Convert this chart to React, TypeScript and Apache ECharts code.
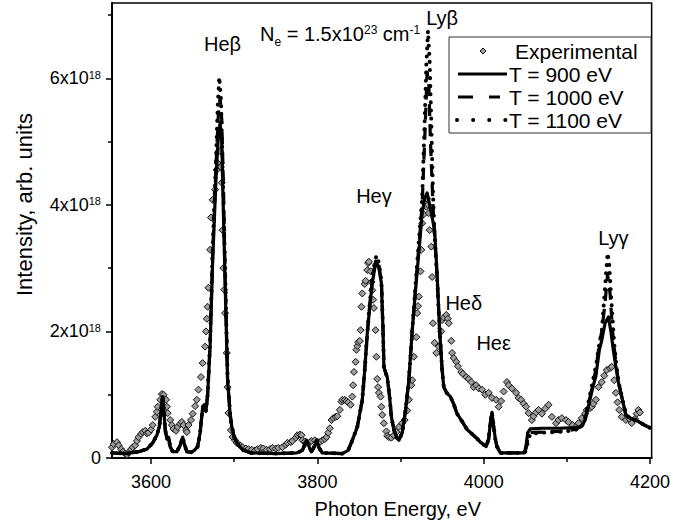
import React, { useEffect, useRef } from 'react';
import * as echarts from 'echarts';

const FONT = 'Liberation Sans, Arial, Helvetica, sans-serif';

// Axis ticks (intensity in units of 1e18)
const xTickLabels = [3600, 3800, 4000, 4200];
const xMinorTicks = [3700, 3900, 4100];
const yTickLabels = [0, 2, 4, 6];
const yMinorTicks = [1, 3, 5, 7];

const seriesNames = ['Experimental', 'T = 900 eV', 'T = 1000 eV', 'T = 1100 eV'];

// Experimental points [photon energy eV, intensity x1e18]
const experimental: [number, number][] = [
  [3553, 0.17], [3555, 0.22], [3559, 0.25], [3561, 0.2], [3564, 0.14], [3566, 0.1], [3569, 0.07], [3571, 0.05],
  [3573, 0.09], [3576, 0.14], [3578, 0.17], [3581, 0.2], [3583, 0.27], [3585, 0.33], [3588, 0.38], [3590, 0.41],
  [3593, 0.43], [3595, 0.39], [3597, 0.4], [3600, 0.45], [3602, 0.52], [3605, 0.65], [3607, 0.73], [3608, 0.81],
  [3611, 0.92], [3613, 1.01], [3615, 1.0], [3618, 0.92], [3619, 0.81], [3620, 0.71], [3623, 0.6], [3625, 0.52],
  [3627, 0.46], [3630, 0.43], [3632, 0.49], [3635, 0.54], [3637, 0.57], [3639, 0.52], [3642, 0.44], [3643, 0.41],
  [3645, 0.52], [3648, 0.6], [3650, 0.7], [3653, 0.82], [3655, 0.92], [3657, 1.08], [3660, 1.28], [3662, 1.5],
  [3665, 1.76], [3666, 2.0], [3667, 2.2], [3668, 2.39], [3669, 2.69], [3671, 3.29], [3672, 3.8], [3674, 4.08],
  [3677, 4.24], [3679, 4.55], [3680, 4.66], [3683, 4.85], [3684, 4.6], [3685, 4.35], [3686, 3.6], [3687, 3.0],
  [3688, 2.66], [3689, 2.29], [3691, 1.66], [3692, 1.12], [3693, 0.71], [3696, 0.44], [3698, 0.33], [3701, 0.28],
  [3703, 0.24], [3707, 0.2], [3710, 0.17], [3714, 0.15], [3717, 0.14], [3721, 0.13], [3725, 0.12], [3728, 0.14],
  [3732, 0.16], [3735, 0.15], [3739, 0.13], [3743, 0.14], [3746, 0.16], [3750, 0.15], [3753, 0.16], [3758, 0.17],
  [3762, 0.21], [3764, 0.24], [3768, 0.25], [3770, 0.27], [3774, 0.32], [3776, 0.36], [3779, 0.37], [3781, 0.36],
  [3782, 0.28], [3785, 0.26], [3787, 0.24], [3791, 0.25], [3793, 0.27], [3797, 0.28], [3800, 0.26], [3803, 0.25],
  [3806, 0.28], [3809, 0.3], [3811, 0.33], [3813, 0.4], [3815, 0.47], [3817, 0.6], [3819, 0.63], [3822, 0.65],
  [3824, 0.66], [3827, 0.76], [3829, 0.89], [3830, 0.92], [3833, 0.92], [3835, 0.9], [3837, 0.88], [3840, 0.84],
  [3842, 0.97], [3843, 1.15], [3844, 1.36], [3846, 1.52], [3847, 1.71], [3848, 1.77], [3849, 1.83], [3851, 1.85],
  [3852, 2.02], [3853, 2.39], [3854, 2.6], [3857, 2.75], [3858, 2.8], [3860, 2.97], [3861, 3.08], [3862, 3.1],
  [3864, 2.95], [3865, 2.78], [3866, 2.65], [3867, 2.5], [3868, 2.37], [3870, 2.02], [3871, 1.6], [3872, 1.25],
  [3873, 1.12], [3874, 1.03], [3876, 0.97], [3877, 0.81], [3878, 0.68], [3880, 0.55], [3883, 0.42], [3884, 0.35],
  [3886, 0.33], [3889, 0.32], [3892, 0.36], [3895, 0.41], [3898, 0.49], [3902, 0.55], [3905, 0.6], [3908, 0.75],
  [3910, 0.92], [3913, 1.15], [3914, 1.23], [3916, 1.6], [3919, 1.91], [3920, 2.29], [3921, 2.4], [3922, 2.55],
  [3924, 2.95], [3925, 3.29], [3926, 3.71], [3928, 3.85], [3931, 3.97], [3932, 4.1], [3933, 4.0], [3934, 3.87],
  [3935, 3.6], [3937, 3.34], [3938, 2.86], [3939, 2.13], [3941, 1.82], [3943, 1.66], [3946, 1.76], [3949, 2.0],
  [3950, 2.18], [3952, 2.22], [3955, 2.26], [3957, 2.2], [3958, 2.13], [3961, 1.85], [3962, 1.66], [3964, 1.58],
  [3967, 1.52], [3969, 1.45], [3973, 1.36], [3975, 1.33], [3979, 1.28], [3982, 1.25], [3985, 1.2], [3988, 1.12],
  [3991, 1.15], [3994, 1.1], [3998, 1.08], [4002, 1.0], [4006, 1.03], [4010, 0.95], [4015, 0.92], [4018, 0.81],
  [4021, 0.9], [4024, 1.05], [4028, 1.2], [4030, 1.15], [4034, 1.1], [4039, 1.03], [4042, 0.95], [4045, 0.92],
  [4048, 0.86], [4051, 0.81], [4054, 0.71], [4058, 0.6], [4060, 0.66], [4063, 0.72], [4066, 0.76], [4070, 0.7],
  [4074, 0.78], [4078, 0.84], [4082, 0.65], [4087, 0.55], [4090, 0.6], [4094, 0.63], [4099, 0.6], [4102, 0.57],
  [4107, 0.52], [4111, 0.49], [4114, 0.55], [4118, 0.63], [4122, 0.7], [4124, 0.76], [4128, 0.79], [4130, 0.81],
  [4132, 0.86], [4135, 0.92], [4138, 1.12], [4142, 1.2], [4145, 1.3], [4148, 1.39], [4152, 1.42], [4154, 1.44],
  [4157, 1.23], [4159, 1.03], [4161, 0.88], [4163, 0.76], [4166, 0.65], [4171, 0.6], [4175, 0.62], [4178, 0.55],
  [4182, 0.62], [4184, 0.7], [4186, 0.76], [4188, 0.72],
];

// Theory, T = 900 eV
const t900: [number, number][] = [
  [3553, 0.08], [3570, 0.07], [3585, 0.1], [3595, 0.14], [3602, 0.24], [3607, 0.36], [3610, 0.5], [3612, 0.75],
  [3614, 0.97], [3615, 0.8], [3617, 0.45], [3619, 0.3], [3621, 0.33], [3623, 0.18], [3626, 0.1], [3631, 0.1],
  [3635, 0.2], [3638, 0.33], [3640, 0.22], [3643, 0.1], [3648, 0.09], [3652, 0.12], [3656, 0.18], [3659, 0.4],
  [3662, 0.8], [3664, 0.84], [3666, 0.74], [3668, 1.0], [3671, 1.76], [3674, 3.08], [3678, 4.4], [3681, 5.1],
  [3683, 5.3], [3685, 5.0], [3686, 4.4], [3689, 2.8], [3692, 1.23], [3695, 0.7], [3697, 0.5], [3700, 0.33],
  [3703, 0.24], [3710, 0.13], [3720, 0.08], [3750, 0.07], [3775, 0.08], [3782, 0.12], [3787, 0.28], [3790, 0.18],
  [3793, 0.1], [3796, 0.17], [3799, 0.28], [3802, 0.16], [3806, 0.08], [3830, 0.07], [3837, 0.12], [3842, 0.28],
  [3848, 0.49], [3854, 0.92], [3857, 1.4], [3860, 1.97], [3863, 2.4], [3866, 2.76], [3869, 3.0], [3871, 3.1],
  [3874, 3.0], [3877, 2.76], [3879, 2.0], [3880, 1.44], [3882, 1.35], [3884, 1.28], [3887, 0.95], [3889, 0.65],
  [3892, 0.45], [3895, 0.33], [3898, 0.28], [3902, 0.4], [3906, 0.75], [3910, 1.23], [3914, 2.0], [3919, 2.8],
  [3923, 3.4], [3926, 3.87], [3929, 4.1], [3932, 4.19], [3935, 4.0], [3938, 3.8], [3941, 3.6], [3944, 2.9],
  [3947, 2.02], [3950, 1.4], [3952, 1.12], [3956, 1.02], [3960, 0.97], [3964, 0.85], [3968, 0.7], [3974, 0.58],
  [3980, 0.45], [3986, 0.38], [3991, 0.32], [3997, 0.24], [4003, 0.18], [4006, 0.3], [4008, 0.55], [4010, 0.72],
  [4012, 0.5], [4014, 0.3], [4016, 0.18], [4020, 0.08], [4035, 0.08], [4049, 0.08], [4051, 0.2], [4053, 0.4],
  [4056, 0.46], [4070, 0.47], [4090, 0.47], [4110, 0.48], [4118, 0.5], [4122, 0.6], [4126, 0.82], [4131, 1.1],
  [4135, 1.3], [4139, 1.7], [4142, 1.86], [4146, 2.13], [4150, 2.23], [4153, 2.0], [4156, 1.7], [4159, 1.44],
  [4162, 1.2], [4165, 1.03], [4168, 0.85], [4171, 0.68], [4176, 0.63], [4183, 0.6], [4192, 0.53], [4201, 0.47],
];

// Theory, T = 1000 eV
const t1000: [number, number][] = [
  [3553, 0.08], [3570, 0.07], [3585, 0.1], [3595, 0.14], [3602, 0.24], [3607, 0.36], [3610, 0.5], [3612, 0.75],
  [3614, 0.98], [3615, 0.8], [3617, 0.45], [3619, 0.3], [3621, 0.33], [3623, 0.18], [3626, 0.1], [3631, 0.1],
  [3635, 0.2], [3638, 0.33], [3640, 0.22], [3643, 0.1], [3648, 0.09], [3652, 0.12], [3656, 0.18], [3659, 0.4],
  [3662, 0.8], [3664, 0.84], [3666, 0.74], [3668, 1.0], [3671, 1.8], [3674, 3.2], [3678, 4.6], [3681, 5.45],
  [3683, 5.7], [3685, 5.35], [3687, 4.3], [3689, 2.9], [3692, 1.25], [3695, 0.7], [3697, 0.5], [3700, 0.33],
  [3703, 0.24], [3710, 0.13], [3720, 0.08], [3750, 0.07], [3775, 0.08], [3782, 0.12], [3787, 0.28], [3790, 0.18],
  [3793, 0.1], [3796, 0.17], [3799, 0.28], [3802, 0.16], [3806, 0.08], [3830, 0.07], [3837, 0.12], [3842, 0.28],
  [3848, 0.49], [3854, 0.92], [3857, 1.4], [3860, 1.97], [3863, 2.42], [3866, 2.8], [3869, 3.05], [3871, 3.15],
  [3874, 3.05], [3877, 2.78], [3879, 2.0], [3880, 1.44], [3882, 1.35], [3884, 1.28], [3887, 0.95], [3889, 0.65],
  [3892, 0.45], [3895, 0.33], [3898, 0.28], [3902, 0.4], [3906, 0.75], [3910, 1.23], [3914, 2.0], [3919, 2.85],
  [3923, 3.5], [3926, 4.0], [3929, 5.0], [3932, 6.1], [3934, 5.9], [3936, 5.0], [3939, 4.0], [3941, 3.5],
  [3944, 2.85], [3947, 2.02], [3950, 1.4], [3952, 1.12], [3956, 1.02], [3960, 0.97], [3964, 0.85], [3968, 0.7],
  [3974, 0.58], [3980, 0.45], [3986, 0.38], [3991, 0.32], [3997, 0.24], [4003, 0.18], [4006, 0.3], [4008, 0.55],
  [4010, 0.72], [4012, 0.5], [4014, 0.3], [4016, 0.18], [4020, 0.08], [4035, 0.08], [4049, 0.08], [4051, 0.15],
  [4053, 0.3], [4056, 0.4], [4070, 0.41], [4090, 0.42], [4110, 0.45], [4118, 0.5], [4122, 0.62], [4126, 0.85],
  [4131, 1.15], [4135, 1.4], [4139, 1.8], [4142, 2.0], [4146, 2.45], [4149, 2.9], [4152, 2.6], [4155, 2.0],
  [4159, 1.5], [4162, 1.22], [4165, 1.03], [4168, 0.85], [4171, 0.68], [4176, 0.63], [4183, 0.6], [4192, 0.53],
  [4201, 0.47],
];

// Theory, T = 1100 eV
const t1100: [number, number][] = [
  [3553, 0.08], [3570, 0.07], [3585, 0.1], [3595, 0.14], [3602, 0.24], [3607, 0.36], [3610, 0.5], [3612, 0.76],
  [3614, 0.99], [3615, 0.8], [3617, 0.45], [3619, 0.3], [3621, 0.33], [3623, 0.18], [3626, 0.1], [3631, 0.1],
  [3635, 0.2], [3638, 0.33], [3640, 0.22], [3643, 0.1], [3648, 0.09], [3652, 0.12], [3656, 0.18], [3659, 0.4],
  [3662, 0.8], [3664, 0.84], [3666, 0.74], [3668, 1.0], [3671, 1.85], [3674, 3.3], [3678, 4.7], [3680, 5.5],
  [3682, 6.02], [3684, 5.7], [3686, 4.6], [3689, 3.0], [3692, 1.3], [3695, 0.7], [3697, 0.5], [3700, 0.33],
  [3703, 0.24], [3710, 0.13], [3720, 0.08], [3750, 0.07], [3775, 0.08], [3782, 0.12], [3787, 0.28], [3790, 0.18],
  [3793, 0.1], [3796, 0.17], [3799, 0.28], [3802, 0.16], [3806, 0.08], [3830, 0.07], [3837, 0.12], [3842, 0.28],
  [3848, 0.49], [3854, 0.92], [3857, 1.4], [3860, 1.97], [3863, 2.45], [3866, 2.85], [3869, 3.1], [3871, 3.2],
  [3874, 3.08], [3877, 2.8], [3879, 2.0], [3880, 1.44], [3882, 1.35], [3884, 1.28], [3887, 0.95], [3889, 0.65],
  [3892, 0.45], [3895, 0.33], [3898, 0.28], [3902, 0.4], [3906, 0.75], [3910, 1.23], [3914, 2.0], [3919, 2.9],
  [3923, 3.6], [3926, 4.1], [3929, 5.3], [3931, 6.2], [3933, 6.75], [3935, 6.3], [3937, 5.3], [3939, 4.2],
  [3941, 3.5], [3944, 2.85], [3947, 2.02], [3950, 1.4], [3952, 1.12], [3956, 1.02], [3960, 0.97], [3964, 0.85],
  [3968, 0.7], [3974, 0.58], [3980, 0.45], [3986, 0.38], [3991, 0.32], [3997, 0.24], [4003, 0.18], [4006, 0.3],
  [4008, 0.55], [4010, 0.72], [4012, 0.5], [4014, 0.3], [4016, 0.18], [4020, 0.08], [4035, 0.08], [4049, 0.08],
  [4051, 0.12], [4053, 0.25], [4056, 0.38], [4070, 0.4], [4090, 0.41], [4110, 0.44], [4118, 0.5], [4122, 0.63],
  [4126, 0.88], [4131, 1.2], [4135, 1.45], [4139, 1.8], [4142, 2.0], [4146, 2.7], [4149, 3.24], [4151, 3.05],
  [4154, 2.4], [4157, 1.8], [4160, 1.4], [4163, 1.15], [4166, 0.98], [4169, 0.8], [4172, 0.67], [4176, 0.63],
  [4183, 0.6], [4192, 0.53], [4201, 0.47],
];

// Line identification labels
const lineLabels = ['Heβ', 'Lyβ', 'Heγ', 'Heδ', 'Heε', 'Lyγ'];
const lineLabelE = [3686, 3950, 3868, 3976, 4012, 4156];
const lineLabelI = [6.54, 6.96, 4.14, 2.45, 1.82, 3.48];

// Density note
const densityNoteE = 3731;
const densityNoteI = 6.7;

export default function App() {
  const ref = useRef<HTMLDivElement>(null);

  useEffect(() => {
    document.body.style.margin = '0';
    if (!ref.current) return;
    const chart = echarts.init(ref.current, null, { renderer: 'svg' });

    const axisTextStyle = { color: '#000', fontFamily: FONT };

    const annotationData: any[] = lineLabels.map((t, i) => ({
      value: [lineLabelE[i], lineLabelI[i]],
      label: { formatter: t },
    }));
    annotationData.push({
      value: [densityNoteE, densityNoteI],
      label: {
        formatter: '{n|N}{sub|e}{n| = 1.5x10}{sup|23}{n| cm}{sup|-1}',
        align: 'left',
      },
    });

    const legendX = 449;
    const legendY = 37;
    const rowY = [51, 74, 97, 120];

    chart.setOption({
      animation: false,
      backgroundColor: '#fff',
      grid: {
        left: 112,
        right: 20,
        top: 3,
        bottom: 74,
        show: true,
        borderColor: '#000',
        borderWidth: 1.5,
        backgroundColor: 'transparent',
      },
      xAxis: [
        {
          type: 'value',
          min: 3553,
          max: 4202,
          position: 'bottom',
          axisLine: { show: true, lineStyle: { color: '#000', width: 2 } },
          axisTick: { show: true, customValues: xTickLabels, length: 6, lineStyle: { color: '#000', width: 1.5 } },
          axisLabel: {
            customValues: xTickLabels,
            fontSize: 18,
            margin: 15,
            formatter: (v: number) => String(v),
            ...axisTextStyle,
          },
          splitLine: { show: false },
          name: 'Photon Energy, eV',
          nameLocation: 'middle',
          nameGap: 41,
          nameTextStyle: { fontSize: 20, padding: [0, 0, 0, 32], ...axisTextStyle },
        },
        {
          type: 'value',
          min: 3553,
          max: 4202,
          position: 'bottom',
          axisLine: { show: false },
          axisTick: { show: true, customValues: xMinorTicks, length: 4, lineStyle: { color: '#000', width: 1.5 } },
          axisLabel: { show: false },
          splitLine: { show: false },
        },
      ],
      yAxis: [
        {
          type: 'value',
          min: 0,
          max: 7.19,
          position: 'left',
          axisLine: { show: true, lineStyle: { color: '#000', width: 2 } },
          axisTick: { show: true, customValues: yTickLabels, length: 6, lineStyle: { color: '#000', width: 1.5 } },
          axisLabel: {
            customValues: yTickLabels,
            margin: 11,
            formatter: (v: number) => (v === 0 ? '{b|0}' : `{b|${v}x10}{s|18}`),
            rich: {
              b: { fontSize: 18, ...axisTextStyle, verticalAlign: 'bottom' },
              s: { fontSize: 11, ...axisTextStyle, verticalAlign: 'top' },
            },
          },
          splitLine: { show: false },
          name: 'Intensity, arb. units',
          nameLocation: 'middle',
          nameGap: 77,
          nameRotate: 90,
          nameTextStyle: { fontSize: 22, padding: [0, 0, 0, 52], ...axisTextStyle },
        },
        {
          type: 'value',
          min: 0,
          max: 7.19,
          position: 'left',
          axisLine: { show: false },
          axisTick: { show: true, customValues: yMinorTicks, length: 4, lineStyle: { color: '#000', width: 1.5 } },
          axisLabel: { show: false },
          splitLine: { show: false },
        },
      ],
      series: [
        {
          name: seriesNames[0],
          type: 'scatter',
          data: experimental,
          symbol: 'diamond',
          symbolSize: 7,
          itemStyle: { color: '#9c9c9c', borderColor: '#111', borderWidth: 1, opacity: 1 },
          z: 2,
        },
        {
          name: seriesNames[1],
          type: 'line',
          data: t900,
          showSymbol: false,
          symbol: 'none',
          lineStyle: { color: '#000', width: 3.2, type: 'solid', join: 'round' },
          z: 5,
        },
        {
          name: seriesNames[2],
          type: 'line',
          data: t1000,
          showSymbol: false,
          symbol: 'none',
          lineStyle: { color: '#000', width: 3.2, type: [12, 8], join: 'round' },
          z: 4,
        },
        {
          name: seriesNames[3],
          type: 'line',
          data: t1100,
          showSymbol: false,
          symbol: 'none',
          lineStyle: { color: '#000', width: 4, type: [0.1, 8], cap: 'round' },
          z: 3,
        },
        {
          name: 'labels',
          type: 'scatter',
          data: annotationData,
          symbolSize: 0,
          silent: true,
          clip: false,
          z: 10,
          itemStyle: { opacity: 1, color: '#000' },
          label: {
            show: true,
            position: 'inside',
            color: '#000',
            fontFamily: FONT,
            fontSize: 20,
            opacity: 1,
            rich: {
              n: { fontSize: 20, fontFamily: FONT, color: '#000', verticalAlign: 'bottom' },
              sub: { fontSize: 12, fontFamily: FONT, color: '#000', verticalAlign: 'bottom', padding: [0, 0, -4, 0] },
              sup: { fontSize: 12, fontFamily: FONT, color: '#000', verticalAlign: 'top' },
            },
          },
        },
      ],
      graphic: [
        {
          type: 'group',
          z: 100,
          children: [
            {
              type: 'rect',
              shape: { x: legendX, y: legendY, width: 202, height: 96 },
              style: { fill: '#fff', stroke: '#333', lineWidth: 1 },
            },
            {
              type: 'polygon',
              shape: { points: [[483, rowY[0] - 3], [486, rowY[0]], [483, rowY[0] + 3], [480, rowY[0]]] },
              style: { fill: '#9c9c9c', stroke: '#111', lineWidth: 1 },
            },
            {
              type: 'line',
              shape: { x1: 458, y1: rowY[1], x2: 507, y2: rowY[1] },
              style: { stroke: '#000', lineWidth: 3 },
            },
            {
              type: 'line',
              shape: { x1: 458, y1: rowY[2], x2: 500, y2: rowY[2] },
              style: { stroke: '#000', lineWidth: 3, lineDash: [15, 16] },
            },
            {
              type: 'line',
              shape: { x1: 457, y1: rowY[3], x2: 507, y2: rowY[3] },
              style: { stroke: '#000', lineWidth: 4, lineDash: [0.1, 16], lineCap: 'round' },
            },
            ...seriesNames.map((n, i) => ({
              type: 'text',
              x: i === 0 ? 515 : 509,
              y: rowY[i],
              style: {
                text: n,
                fill: '#000',
                font: `21px ${FONT}`,
                verticalAlign: 'middle',
              },
            })),
          ],
        },
      ],
    });

    return () => chart.dispose();
  }, []);

  return <div ref={ref} style={{ width: 673, height: 532 }} />;
}
